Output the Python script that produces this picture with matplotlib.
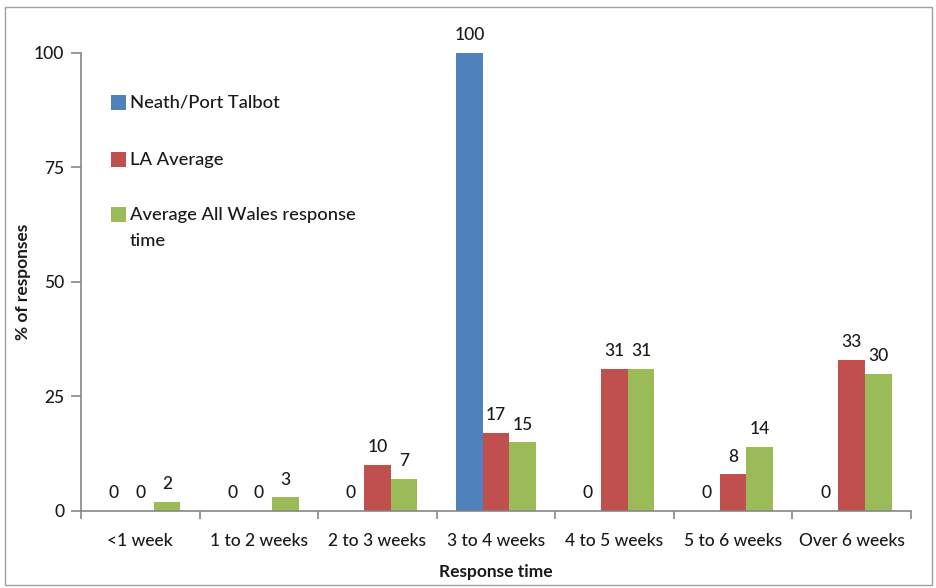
import matplotlib
matplotlib.use("Agg")
import matplotlib.pyplot as plt
from matplotlib.patches import Rectangle
import numpy as np

plt.rcParams['font.family'] = ['Lato', 'DejaVu Sans']

categories = ["<1 week", "1 to 2 weeks", "2 to 3 weeks", "3 to 4 weeks",
              "4 to 5 weeks", "5 to 6 weeks", "Over 6 weeks"]
neath = [0, 0, 0, 100, 0, 0, 0]
la_avg = [0, 0, 10, 17, 31, 8, 33]
wales = [2, 3, 7, 15, 31, 14, 30]

series_names = ["Neath/Port Talbot", "LA Average", "Average All Wales response\ntime"]
colors = ["#4F81BD", "#C0504D", "#9BBB59"]
yticks = [0, 25, 50, 75, 100]

fs = 12.5
fw = "medium"
fig = plt.figure(figsize=(9.37, 5.88), dpi=100)
ax = fig.add_axes([0.0864, 0.131, 0.8858, 0.779])

# outer chart border
fig.patches.append(Rectangle((0.005, 0.005), 0.99, 0.983, transform=fig.transFigure,
                             fill=False, edgecolor="#A0A0A0", linewidth=1.0))

x = np.arange(len(categories))
w = 0.224
axis_col = "#868686"
txt_col = "#1a1a1a"
for i, (vals, col) in enumerate(zip([neath, la_avg, wales], colors)):
    bars = ax.bar(x + (i - 1) * w, vals, width=w, color=col, label=series_names[i])
    for b, v in zip(bars, vals):
        ax.annotate(f"{v}", (b.get_x() + b.get_width() / 2, v),
                    xytext=(0, 7), textcoords="offset points",
                    ha="center", va="bottom", fontsize=fs, fontweight=fw, color=txt_col)

ax.set_xlim(-0.5, len(categories) - 0.5)
ax.set_ylim(0, 100)
ax.set_yticks(yticks)
ax.set_xticks(x)
ax.set_xticklabels(categories, fontweight=fw)
ax.set_yticklabels([str(t) for t in yticks], fontweight=fw)
ax.set_xticks(np.arange(-0.5, len(categories)), minor=True)
ax.tick_params(axis="x", which="major", length=0, pad=16, labelsize=fs, labelcolor=txt_col)
ax.tick_params(axis="x", which="minor", length=6, color=axis_col, width=1.2)
ax.tick_params(axis="y", length=7, color=axis_col, width=1.2, labelsize=fs,
               labelcolor=txt_col, pad=5)

for s in ["top", "right"]:
    ax.spines[s].set_visible(False)
for s in ["left", "bottom"]:
    ax.spines[s].set_color(axis_col)
    ax.spines[s].set_linewidth(1.2)

ax.set_xlabel("Response time", fontsize=fs, fontweight="bold", color=txt_col)
ax.set_ylabel("% of responses", fontsize=fs, fontweight="bold", color=txt_col)
ax.xaxis.set_label_coords(0.5, -0.116)
ax.yaxis.set_label_coords(-0.06, 0.5)

# legend: colour key squares with labels, first text line level with the square
key_x, key_w, key_h = 0.0361, 0.0181, 0.0328
text_x = 0.059
line_step = 0.0568
key_y = [0.8908, 0.7664, 0.6463]
for name, col, yc in zip(series_names, colors, key_y):
    ax.add_patch(Rectangle((key_x, yc - key_h / 2), key_w, key_h, transform=ax.transAxes,
                           facecolor=col, edgecolor="none", clip_on=False))
    for k, line in enumerate(name.split("\n")):
        ax.text(text_x, yc - k * line_step, line, transform=ax.transAxes,
                ha="left", va="center", fontsize=13.2, fontweight=fw, color=txt_col)

fig.savefig("out.png", dpi=100)
